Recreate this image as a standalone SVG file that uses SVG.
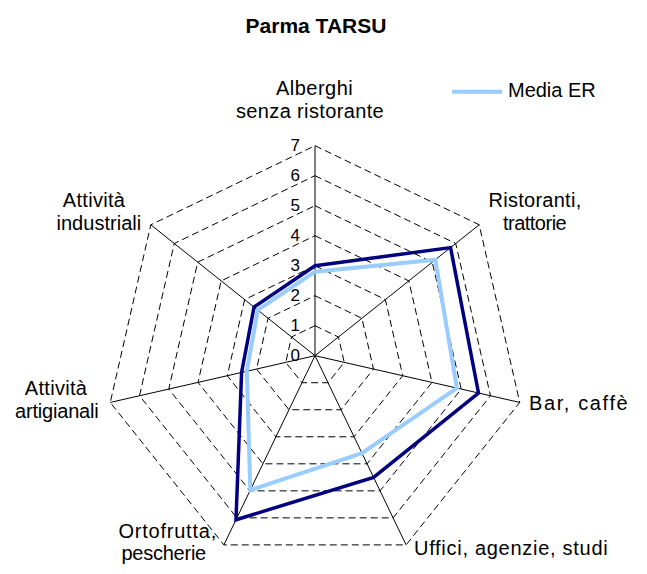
<svg xmlns="http://www.w3.org/2000/svg" width="647" height="574" viewBox="0 0 647 574">
<style>
  .bg{fill:#ffffff}
  .title{font-family:"Liberation Sans",Arial,sans-serif;font-size:21px;font-weight:bold;fill:#000}
  .lbl{font-family:"Liberation Sans",Arial,sans-serif;font-size:20px;fill:#000;letter-spacing:0.3px}
  .num{font-family:"Liberation Sans",Arial,sans-serif;font-size:17px;fill:#000;text-anchor:end}
  .grid{fill:none;stroke:#000;stroke-width:1;stroke-dasharray:7 4}
  .axis{fill:none;stroke:#000;stroke-width:1}
  .parma{fill:none;stroke:#000080;stroke-width:3.5;stroke-linejoin:miter}
  .media{fill:none;stroke:#99CCFF;stroke-width:4;stroke-linejoin:miter}
</style>
<rect class="bg" x="0" y="0" width="647" height="574"/>
<text class="title" x="316" y="33" text-anchor="middle">Parma TARSU</text>
<g id="grid">
  <polygon class="grid" points="315,325.7 338.46,337.0 344.25,362.38 328.02,382.73 301.98,382.73 285.75,362.38 291.55,337.0"/>
  <polygon class="grid" points="315,295.7 361.91,318.29 373.50,369.05 341.03,409.76 288.97,409.76 256.50,369.05 268.09,318.29"/>
  <polygon class="grid" points="315,265.7 385.37,299.59 402.74,375.73 354.05,436.79 275.95,436.79 227.26,375.73 244.63,299.59"/>
  <polygon class="grid" points="315,235.7 408.82,280.88 431.99,382.40 367.06,463.82 262.94,463.82 198.01,382.40 221.18,280.88"/>
  <polygon class="grid" points="315,205.7 432.28,262.18 461.24,389.08 380.08,490.85 249.92,490.85 168.76,389.08 197.72,262.18"/>
  <polygon class="grid" points="315,175.7 455.73,243.47 490.49,395.76 393.10,517.87 236.90,517.87 139.51,395.76 174.27,243.47"/>
  <polygon class="grid" points="315,145.7 479.19,224.77 519.74,402.43 406.11,544.90 223.89,544.90 110.26,402.43 150.81,224.77"/>
</g>
<g id="axes">
  <line class="axis" x1="315" y1="355.7" x2="315" y2="145.7"/>
  <line class="axis" x1="315" y1="355.7" x2="479.19" y2="224.77"/>
  <line class="axis" x1="315" y1="355.7" x2="519.74" y2="402.43"/>
  <line class="axis" x1="315" y1="355.7" x2="406.11" y2="544.90"/>
  <line class="axis" x1="315" y1="355.7" x2="223.89" y2="544.90"/>
  <line class="axis" x1="315" y1="355.7" x2="110.26" y2="402.43"/>
  <line class="axis" x1="315" y1="355.7" x2="150.81" y2="224.77"/>
</g>
<g id="scale">
  <text class="num" x="300" y="361">0</text>
  <text class="num" x="300" y="331">1</text>
  <text class="num" x="300" y="301">2</text>
  <text class="num" x="300" y="271">3</text>
  <text class="num" x="300" y="241">4</text>
  <text class="num" x="300" y="211">5</text>
  <text class="num" x="300" y="181">6</text>
  <text class="num" x="300" y="151">7</text>
</g>
<g id="series-parma">
  <polygon class="parma" points="315,265.7 450.57,247.59 478.50,393.02 373.57,477.33 235.99,519.77 241.59,372.46 254.02,307.07"/>
</g>
<g id="series-media">
  <polygon class="media" points="315,271.7 435.32,259.74 456.85,388.08 361.99,453.27 250.31,490.03 246.85,371.26 257.77,310.06"/>
</g>
<g id="legend">
  <line x1="452" y1="91.7" x2="502" y2="91.7" stroke="#99CCFF" stroke-width="4"/>
  <text class="lbl" x="508" y="97" textLength="88" lengthAdjust="spacing">Media ER</text>
</g>
<g id="label-alberghi">
  <text class="lbl" x="314.5" y="95" text-anchor="middle" textLength="77" lengthAdjust="spacing">Alberghi</text>
  <text class="lbl" x="310" y="118" text-anchor="middle" textLength="148" lengthAdjust="spacing">senza ristorante</text>
</g>
<g id="label-ristoranti">
  <text class="lbl" x="535" y="207" text-anchor="middle" textLength="93" lengthAdjust="spacing">Ristoranti,</text>
  <text class="lbl" x="535" y="230" text-anchor="middle" textLength="64" lengthAdjust="spacing">trattorie</text>
</g>
<g id="label-bar">
  <text class="lbl" x="529" y="410" textLength="99" lengthAdjust="spacing">Bar, caffè</text>
</g>
<g id="label-uffici">
  <text class="lbl" x="414" y="555" textLength="194" lengthAdjust="spacing">Uffici, agenzie, studi</text>
</g>
<g id="label-ortofrutta">
  <text class="lbl" x="167.5" y="538" text-anchor="middle" textLength="98" lengthAdjust="spacing">Ortofrutta,</text>
  <text class="lbl" x="164" y="560" text-anchor="middle" textLength="85" lengthAdjust="spacing">pescherie</text>
</g>
<g id="label-artigianali">
  <text class="lbl" x="56" y="395" text-anchor="middle">Attività</text>
  <text class="lbl" x="57" y="418" text-anchor="middle" textLength="84" lengthAdjust="spacing">artigianali</text>
</g>
<g id="label-industriali">
  <text class="lbl" x="94" y="207" text-anchor="middle">Attività</text>
  <text class="lbl" x="99" y="230" text-anchor="middle" textLength="85" lengthAdjust="spacing">industriali</text>
</g>
</svg>
